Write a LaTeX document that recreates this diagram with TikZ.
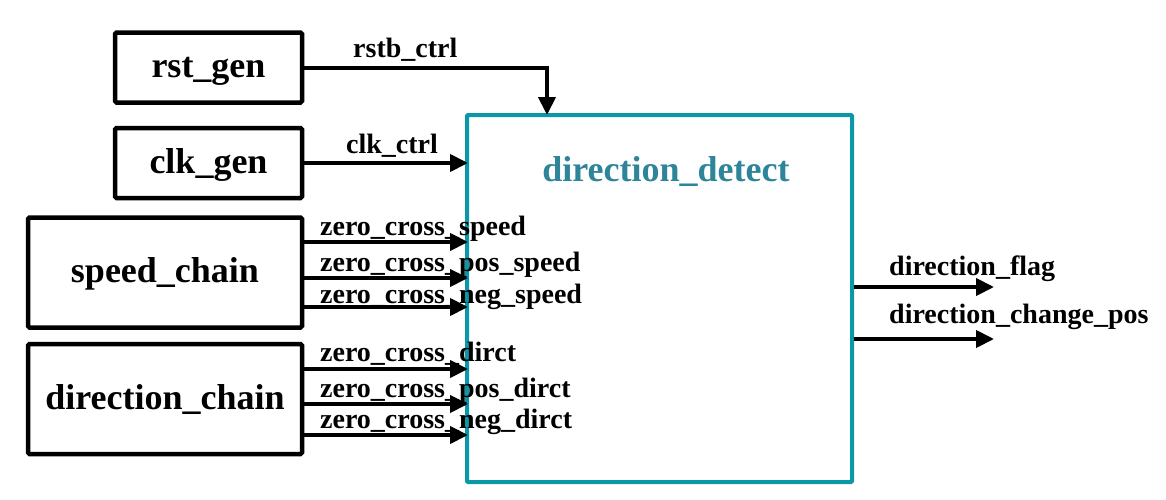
\documentclass[tikz,border=0pt]{standalone}
\usepackage{fontspec}
\setmainfont{Liberation Serif}
\usetikzlibrary{arrows.meta,calc}
\definecolor{tealbox}{HTML}{0A98A8}
\definecolor{tealtext}{HTML}{2E8599}
\begin{document}
\begin{tikzpicture}[x=1pt,y=-1pt,
  blk/.style={draw=black,line width=4.5pt,rounded corners=1.5pt,inner sep=0pt,
    text height=20pt,text depth=0pt,
    font=\fontsize{36}{40}\selectfont\bfseries},
  sig/.style={line width=4pt,-{Triangle[length=18pt,width=17pt]}},
  lbl/.style={inner sep=0pt,anchor=base west,font=\fontsize{28}{30}\selectfont\bfseries}]
\useasboundingbox (0,0) rectangle (1166,499);
\node[blk,minimum width=187pt,minimum height=70pt] (rst) at (208.5,67.5) {rst\_gen};
\node[blk,minimum width=187pt,minimum height=70pt] (clk) at (208.5,163) {clk\_gen};
\node[blk,minimum width=274pt,minimum height=110pt] (spd) at (165,272.5) {speed\_chain};
\node[blk,minimum width=274pt,minimum height=110pt] (dir) at (165,399) {direction\_chain};
\node[draw=tealbox,line width=4pt,rounded corners=1pt,minimum width=385pt,minimum height=367pt,inner sep=0pt] (det) at (659.5,298.5) {};
\node[inner sep=0pt,anchor=base,text=tealtext,font=\fontsize{36}{40}\selectfont\bfseries] (title) at (666,181) {direction\_detect};
% coordinates on the big box
\coordinate (rin) at (547,115);
\coordinate (s1) at (468,242);
\coordinate (s2) at (468,278);
\coordinate (s3) at (468,307);
\coordinate (d1) at (468,369);
\coordinate (d2) at (468,404);
\coordinate (d3) at (468,435);
\coordinate (o1) at (994,287);
\coordinate (o2) at (994,339);
% connectors
\draw[sig] (rst.east) -| (rin);
\draw[sig] (clk.east) -- (clk.east -| s1);
\draw[sig] (spd.east |- s1) -- (s1);
\draw[sig] (spd.east |- s2) -- (s2);
\draw[sig] (spd.east |- s3) -- (s3);
\draw[sig] (dir.east |- d1) -- (d1);
\draw[sig] (dir.east |- d2) -- (d2);
\draw[sig] (dir.east |- d3) -- (d3);
\draw[sig] (det.east |- o1) -- (o1);
\draw[sig] (det.east |- o2) -- (o2);
% labels
\node[lbl] (l1) at (353,57) {rstb\_ctrl};
\node[lbl] (l2) at (346,153) {clk\_ctrl};
\node[lbl] (l3) at (320,235) {zero\_cross\_speed};
\node[lbl] (l4) at (320,271) {zero\_cross\_pos\_speed};
\node[lbl] (l5) at (320,303) {zero\_cross\_neg\_speed};
\node[lbl] (l6) at (320,361) {zero\_cross\_dirct};
\node[lbl] (l7) at (320,397) {zero\_cross\_pos\_dirct};
\node[lbl] (l8) at (320,428) {zero\_cross\_neg\_dirct};
\node[lbl] (l9) at (889,275) {direction\_flag};
\node[lbl] (l10) at (889,323) {direction\_change\_pos};
\end{tikzpicture}
\end{document}
